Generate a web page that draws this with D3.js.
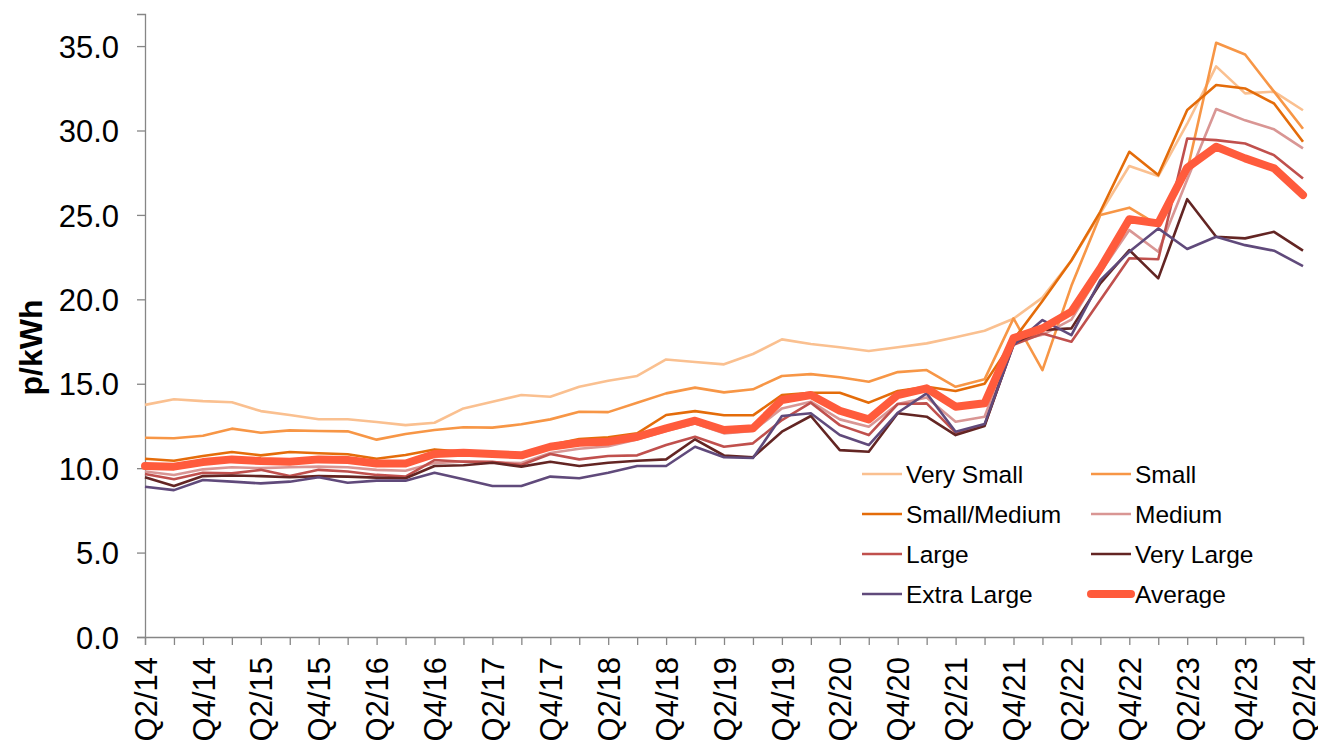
<!DOCTYPE html>
<html><head><meta charset="utf-8">
<script src="https://cdn.jsdelivr.net/npm/d3@7"></script>
<style>html,body{margin:0;padding:0;background:#fff;}svg{display:block;}</style>
</head><body>
<svg id="chart" width="1318" height="753"></svg>
<script>
const categories = [];
for (let yr = 14; yr <= 24; yr++) for (let q = 1; q <= 4; q++) {
  if ((yr === 14 && q < 2) || (yr === 24 && q > 2)) continue;
  categories.push("Q" + q + "/" + yr);
}
const tickLabels = categories.filter((c, i) => i % 2 === 0);

const verySmall = [13.75,14.08,13.97,13.9,13.38,13.15,12.9,12.9,12.73,12.55,12.69,13.54,13.94,14.33,14.23,14.82,15.18,15.46,16.44,16.29,16.15,16.76,17.63,17.35,17.16,16.94,17.16,17.39,17.75,18.14,18.85,20.1,22.3,25.1,27.9,27.3,30.4,33.8,32.2,32.3,31.2];
const small = [11.8,11.77,11.92,12.34,12.1,12.24,12.2,12.18,11.69,12.02,12.26,12.42,12.4,12.6,12.89,13.34,13.32,13.88,14.43,14.77,14.49,14.67,15.46,15.57,15.38,15.12,15.69,15.81,14.82,15.26,18.87,15.81,20.8,25.0,25.43,24.4,27.6,35.2,34.5,32.3,30.1];
const smallMedium = [10.56,10.44,10.72,10.96,10.76,10.96,10.88,10.82,10.56,10.78,11.11,10.97,10.84,10.78,11.37,11.73,11.83,12.06,13.15,13.38,13.13,13.13,14.33,14.47,14.47,13.88,14.57,14.82,14.57,15.0,17.6,19.9,22.3,25.2,28.74,27.36,31.21,32.69,32.49,31.6,29.33];
const medium = [9.8,9.6,9.93,10.05,10.0,10.05,10.09,10.05,9.9,9.85,10.3,10.4,10.35,10.3,10.9,11.15,11.3,11.7,12.2,12.65,12.06,12.2,13.54,13.94,12.89,12.45,13.8,14.19,12.75,13.05,17.5,17.9,18.8,21.6,24.1,22.82,27.1,31.27,30.6,30.07,28.94];
const large = [9.65,9.34,9.73,9.69,9.9,9.53,9.9,9.8,9.6,9.5,10.48,10.38,10.38,10.19,10.84,10.52,10.72,10.76,11.37,11.86,11.27,11.47,12.85,13.88,12.55,11.96,13.8,13.84,12.1,12.55,17.3,17.98,17.49,19.96,22.43,22.37,29.53,29.43,29.23,28.54,27.16];
const veryLarge = [9.46,8.94,9.53,9.57,9.53,9.46,9.53,9.5,9.44,9.4,10.13,10.17,10.32,10.09,10.38,10.13,10.32,10.44,10.52,11.71,10.75,10.65,12.16,13.09,11.07,10.97,13.25,13.05,11.96,12.49,17.4,18.18,18.28,20.95,22.92,21.24,25.93,23.71,23.61,24.0,22.88];
const extraLarge = [8.9,8.7,9.3,9.2,9.1,9.2,9.46,9.14,9.26,9.26,9.73,9.34,8.94,8.94,9.5,9.4,9.73,10.13,10.13,11.27,10.65,10.6,13.09,13.25,11.96,11.37,13.28,14.43,12.16,12.61,17.29,18.77,17.88,21.14,22.82,24.2,22.98,23.71,23.21,22.88,21.97];
const average = [10.13,10.09,10.36,10.52,10.42,10.38,10.52,10.48,10.28,10.28,10.84,10.92,10.84,10.76,11.27,11.51,11.57,11.86,12.36,12.81,12.26,12.36,14.04,14.33,13.4,12.89,14.33,14.73,13.64,13.84,17.7,18.28,19.27,21.84,24.74,24.5,27.8,29.04,28.35,27.76,26.18];

const yTicks = [0,5,10,15,20,25,30,35];
const seriesNames = ["Very Small","Small","Small/Medium","Medium","Large","Very Large","Extra Large","Average"];
const seriesValues = [verySmall, small, smallMedium, medium, large, veryLarge, extraLarge, average];
const seriesColors = ["#FAC090","#F79646","#E46C0A","#D99694","#C0504D","#632523","#604A7B","#FF5B3C"];
const seriesWidths = [2.6,2.6,2.6,2.6,2.6,2.6,2.6,8];

(function () {
const svg = d3.select("#chart");
const mLeft = 145, mRight = 1303, mTop = 14, mBottom = 637;
const font = "'Liberation Sans', Arial, sans-serif";

const x = d3.scalePoint().domain(categories).range([mLeft, mRight]);
const y = d3.scaleLinear().domain([0, 36.9]).range([mBottom, mTop]);

const yAxis = svg.append("g").attr("transform", `translate(${mLeft},0)`)
  .call(d3.axisLeft(y).tickValues(yTicks).tickSize(8).tickPadding(18).tickFormat(d3.format(".1f")));
yAxis.select(".domain").attr("stroke", "#868686").attr("stroke-width", 1.3);
yAxis.selectAll(".tick line").attr("stroke", "#868686").attr("stroke-width", 1.3);
yAxis.selectAll("text").attr("font-family", font).attr("font-size", 31).attr("fill", "#000").attr("dy", "0.36em");

const xAxis = svg.append("g").attr("transform", `translate(0,${mBottom})`)
  .call(d3.axisBottom(x).tickSize(8).tickFormat(d => tickLabels.includes(d) ? d : ""));
xAxis.select(".domain").attr("stroke", "#868686").attr("stroke-width", 1.3);
xAxis.selectAll(".tick line").attr("stroke", "#868686").attr("stroke-width", 1.3);
xAxis.selectAll("text").attr("font-family", font).attr("font-size", 31).attr("fill", "#000")
  .attr("transform", "rotate(-90)").attr("text-anchor", "end")
  .attr("x", -20).attr("y", 0).attr("dy", "0.36em");

svg.append("text").attr("transform", `translate(42,${(mTop+mBottom)/2+22}) rotate(-90)`)
  .attr("text-anchor", "middle").attr("font-family", font).attr("font-weight", "bold")
  .attr("font-size", 32).text("p/kWh");

const line = d3.line().x((d, i) => x(categories[i])).y(d => y(d));
seriesValues.forEach((vals, k) => {
  svg.append("path").datum(vals).attr("d", line).attr("fill", "none")
    .attr("stroke", seriesColors[k]).attr("stroke-width", seriesWidths[k])
    .attr("stroke-linejoin", "round").attr("stroke-linecap", k === 7 ? "round" : "butt");
});

const legX = [862, 1091], legY = [474, 514, 554, 594];
seriesNames.forEach((name, k) => {
  const cx = legX[k % 2], cy = legY[Math.floor(k / 2)];
  svg.append("line").attr("x1", cx).attr("x2", cx + 40).attr("y1", cy).attr("y2", cy)
    .attr("stroke", seriesColors[k]).attr("stroke-width", k === 7 ? 8 : 2.6)
    .attr("stroke-linecap", k === 7 ? "round" : "butt");
  svg.append("text").attr("x", cx + 44).attr("y", cy).attr("dy", "0.36em")
    .attr("font-family", font).attr("font-size", 24.5).attr("fill", "#000").text(name);
});
})();
</script>
</body></html>
